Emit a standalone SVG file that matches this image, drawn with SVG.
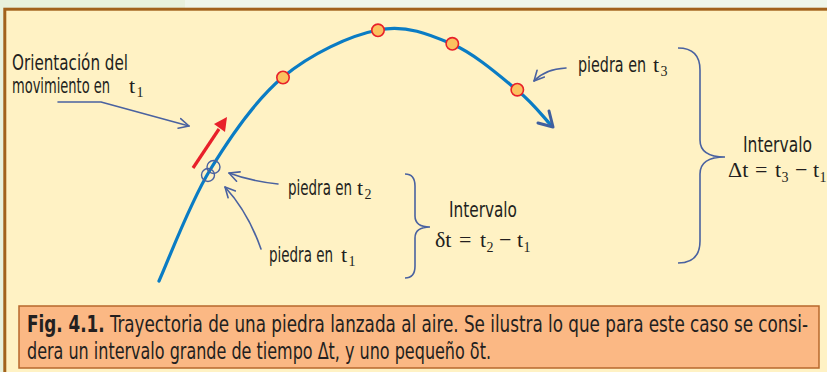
<svg xmlns="http://www.w3.org/2000/svg" width="827" height="372" viewBox="0 0 827 372">
<defs>
<style>
.lbl{font-family:"Liberation Sans Narrow","DejaVu Sans Condensed","Liberation Sans",sans-serif;font-stretch:condensed;font-size:22px;fill:#231f20}
.math{font-family:"Liberation Serif","DejaVu Serif",serif;font-size:22px;fill:#231f20}
.sub{font-family:"Liberation Serif","DejaVu Serif",serif;font-size:14px;fill:#231f20}
.cap{font-family:"Liberation Sans Narrow","DejaVu Sans Condensed","Liberation Sans",sans-serif;font-stretch:condensed;font-size:23px;fill:#231f20}
.ptr{fill:none;stroke:#4a62a0;stroke-width:1.6;stroke-linecap:round;stroke-linejoin:round}
.brace{fill:none;stroke:#4a62a0;stroke-width:1.6}
.stone{fill:#fbc15f;stroke:#e8202a;stroke-width:1.6}
.ring{fill:none;stroke:#4a62a0;stroke-width:1.4}
</style>
<marker id="chev" viewBox="0 0 12 12" refX="11" refY="6" markerWidth="12" markerHeight="12" markerUnits="userSpaceOnUse" orient="auto">
<path d="M1,1 L11,6 L1,11" fill="none" stroke="#4a62a0" stroke-width="1.6" stroke-linecap="round" stroke-linejoin="round"/>
</marker>
</defs>
<rect x="0" y="0" width="827" height="372" fill="#e8f1dc"/>
<rect x="185" y="0" width="642" height="8" fill="#eff6ea"/>
<rect x="4.8" y="9.2" width="830" height="370" fill="#fff2c4" stroke="#a2621c" stroke-width="3"/>

<g id="trajectory">
<path d="M159,281 C167.5,262.5 189.3,204 210,170 C230.7,136 255,100.3 283,77 C311,53.7 349.8,35.5 378,30 C406.2,24.5 428.8,34 452,44 C475.2,54 500.7,76.7 517,90 C533.3,103.3 544.5,118.3 550,124" fill="none" stroke="#0a7cc4" stroke-width="3.2" stroke-linecap="round"/>
<path d="M549,111 L553,127 L538,123" fill="none" stroke="#3f5f9f" stroke-width="3" stroke-linecap="round" stroke-linejoin="round"/>
</g>

<g id="stones">
<circle class="stone" cx="283" cy="77.5" r="6.2"/>
<circle class="stone" cx="378" cy="30.3" r="6.2"/>
<circle class="stone" cx="452.3" cy="43.8" r="6.2"/>
<circle class="stone" cx="517.3" cy="89.7" r="6.2"/>
<circle class="ring" cx="213.5" cy="167" r="6.5"/>
<circle class="ring" cx="208" cy="175" r="6.5"/>
</g>

<g id="velocity">
<line x1="193" y1="168" x2="219" y2="129" stroke="#e8202a" stroke-width="3.2"/>
<path d="M227,117 L225,132 L214,124 Z" fill="#e8202a"/>
</g>

<g id="connectors">
<path class="ptr" d="M58,102 L101,102 L189,126" marker-end="url(#chev)"/>
<path class="ptr" d="M278,184 Q250,181 229,173" marker-end="url(#chev)"/>
<path class="ptr" d="M261,249 Q248,212 225,187" marker-end="url(#chev)"/>
<path class="ptr" d="M566,68 Q545,69 534,81" marker-end="url(#chev)"/>
</g>

<g id="label-orientacion">
<text class="lbl" x="12" y="70" textLength="116" lengthAdjust="spacingAndGlyphs">Orientación del</text>
<text class="lbl" x="12" y="93" textLength="98" lengthAdjust="spacingAndGlyphs">movimiento en</text>
<text class="math" x="129" y="93">t</text>
<text class="sub" x="136.5" y="97">1</text>
</g>

<g id="label-t2">
<text class="lbl" x="288" y="195" textLength="64" lengthAdjust="spacingAndGlyphs">piedra en</text>
<text class="math" x="357" y="195">t</text>
<text class="sub" x="364.5" y="199">2</text>
</g>

<g id="label-t1">
<text class="lbl" x="269" y="262" textLength="64" lengthAdjust="spacingAndGlyphs">piedra en</text>
<text class="math" x="341" y="262">t</text>
<text class="sub" x="348.5" y="266">1</text>
</g>

<g id="label-t3">
<text class="lbl" x="578" y="72" textLength="68" lengthAdjust="spacingAndGlyphs">piedra en</text>
<text class="math" x="653" y="72">t</text>
<text class="sub" x="660.5" y="76">3</text>
</g>

<g id="interval-small">
<path class="brace" d="M405,174 Q415,174 415,186 L415,216 Q415,227 430,227 Q415,227 415,238 L415,266 Q415,278 405,278"/>
<text class="lbl" x="449" y="217" textLength="68" lengthAdjust="spacingAndGlyphs">Intervalo</text>
<text class="math" x="435" y="247">δt</text>
<text class="math" x="459" y="247">=</text>
<text class="math" x="480" y="247">t</text>
<text class="sub" x="486.5" y="252">2</text>
<text class="math" x="499" y="247">−</text>
<text class="math" x="517" y="247">t</text>
<text class="sub" x="523.5" y="252">1</text>
</g>

<g id="interval-large">
<path class="brace" d="M678,48 Q700,48 700,70 L700,140 Q700,157 725,157 Q700,157 700,174 L700,241 Q700,263 678,263"/>
<text class="lbl" x="743" y="152" textLength="69" lengthAdjust="spacingAndGlyphs">Intervalo</text>
<text class="math" x="728" y="177">Δt</text>
<text class="math" x="755" y="177">=</text>
<text class="math" x="775" y="177">t</text>
<text class="sub" x="781.5" y="182">3</text>
<text class="math" x="795" y="177">−</text>
<text class="math" x="813" y="177">t</text>
<text class="sub" x="819.5" y="182">1</text>
</g>

<g id="caption">
<rect x="19" y="306" width="800" height="62" fill="#fbb884" stroke="#b8682c" stroke-width="1.5"/>
<text class="cap" x="27" y="332" textLength="781" lengthAdjust="spacingAndGlyphs"><tspan font-weight="bold">Fig. 4.1.</tspan> Trayectoria de una piedra lanzada al aire. Se ilustra lo que para este caso se consi-</text>
<text class="cap" x="27" y="359" textLength="464" lengthAdjust="spacingAndGlyphs">dera un intervalo grande  de tiempo Δt, y uno pequeño δt.</text>
</g>
</svg>
